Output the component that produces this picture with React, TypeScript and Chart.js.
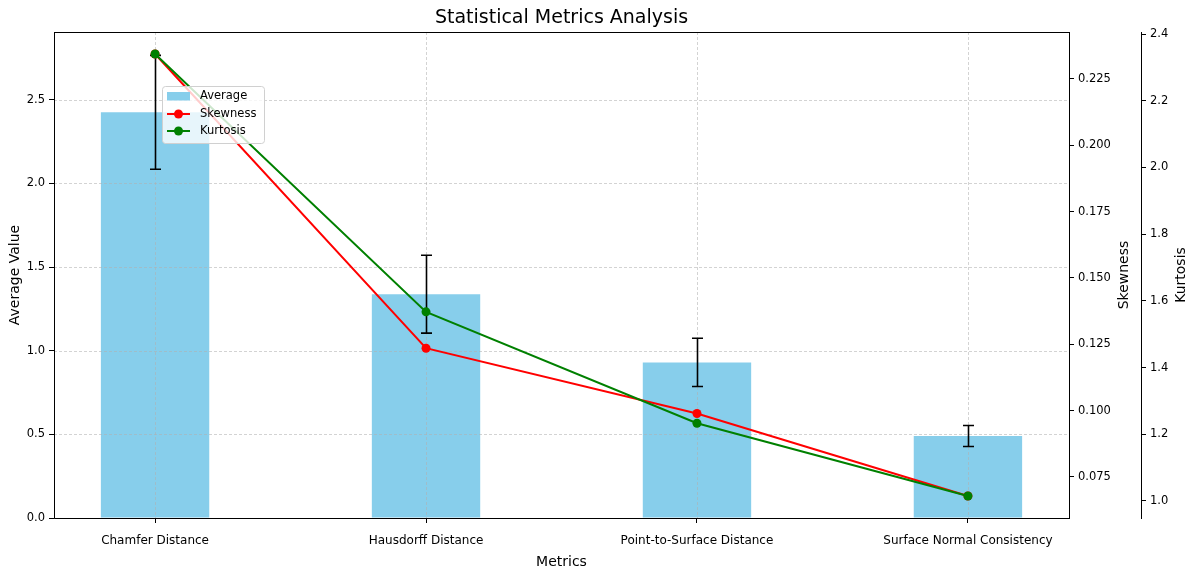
import { useEffect, useRef } from 'react';
import { Chart, registerables } from 'chart.js';

Chart.register(...registerables);

// ---- data ----
const categories = [
  'Chamfer Distance',
  'Hausdorff Distance',
  'Point-to-Surface Distance',
  'Surface Normal Consistency',
];
const categoryPositions = [0, 1, 2, 3];
const averageValues = [2.425, 1.338, 0.93, 0.49];
const averageErrors = [0.34, 0.233, 0.144, 0.063];
const skewnessValues = [0.2344, 0.1235, 0.0989, 0.0678];
const kurtosisValues = [2.34, 1.567, 1.233, 1.015];

const averageTicks = [0, 0.5, 1.0, 1.5, 2.0, 2.5];
const skewnessTicks = [0.075, 0.1, 0.125, 0.15, 0.175, 0.2, 0.225];
const kurtosisTicks = [1.0, 1.2, 1.4, 1.6, 1.8, 2.0, 2.2, 2.4];

const xRange = [-0.373, 3.373];
const averageRange = [0, 2.905];
const skewnessRange = [0.0595, 0.2427];
const kurtosisRange = [0.949, 2.406];

const CHART_TITLE = 'Statistical Metrics Analysis';
const FONT = "'DejaVu Sans', sans-serif";
const BAR_COLOR = '#87CEEB';
const SKEW_COLOR = '#ff0000';
const KURT_COLOR = '#008000';

const overlayPlugin = {
  id: 'overlay',
  afterDatasetDraw(chart: any, args: any) {
    if (args.index !== 0) return;
    const ctx = chart.ctx;
    const area = chart.chartArea;
    const xs = chart.scales.x;
    const ys = chart.scales.y;
    ctx.save();
    // grid lines (above bars, below lines)
    ctx.strokeStyle = 'rgba(176,176,176,0.7)';
    ctx.lineWidth = 0.8;
    ctx.setLineDash([3, 2]);
    ys.ticks.forEach((t: any) => {
      const y = Math.round(ys.getPixelForValue(t.value)) + 0.5;
      ctx.beginPath();
      ctx.moveTo(area.left, y);
      ctx.lineTo(area.right, y);
      ctx.stroke();
    });
    xs.ticks.forEach((t: any) => {
      const x = Math.round(xs.getPixelForValue(t.value)) + 0.5;
      ctx.beginPath();
      ctx.moveTo(x, area.top);
      ctx.lineTo(x, area.bottom);
      ctx.stroke();
    });
    ctx.setLineDash([]);
    // error bars
    ctx.strokeStyle = '#000';
    ctx.lineWidth = 1.6;
    averageValues.forEach((v, i) => {
      const x = Math.round(xs.getPixelForValue(categoryPositions[i])) + 0.5;
      const yT = ys.getPixelForValue(v + averageErrors[i]);
      const yB = ys.getPixelForValue(v - averageErrors[i]);
      ctx.beginPath();
      ctx.moveTo(x, yT);
      ctx.lineTo(x, yB);
      ctx.moveTo(x - 5.5, yT);
      ctx.lineTo(x + 5.5, yT);
      ctx.moveTo(x - 5.5, yB);
      ctx.lineTo(x + 5.5, yB);
      ctx.stroke();
    });
    ctx.restore();
  },
  afterDraw(chart: any) {
    const ctx = chart.ctx;
    const area = chart.chartArea;
    ctx.save();
    // frame
    ctx.strokeStyle = '#000';
    ctx.lineWidth = 1;
    const l = Math.round(area.left) + 0.5;
    const r = Math.round(area.right) + 0.5;
    const t = Math.round(area.top) + 0.5;
    const b = Math.round(area.bottom) + 0.5;
    ctx.beginPath();
    ctx.moveTo(l, b);
    ctx.lineTo(l, t);
    ctx.lineTo(r, t);
    ctx.lineTo(r, b);
    ctx.lineTo(l, b);
    ctx.stroke();

    // chart title, centred over the plot area
    ctx.fillStyle = '#000';
    ctx.font = `19px ${FONT}`;
    ctx.textAlign = 'center';
    ctx.textBaseline = 'middle';
    ctx.fillText(CHART_TITLE, (area.left + area.right) / 2, area.top - 14);

    // right axis titles (read bottom-to-top)
    ctx.font = `14px ${FONT}`;
    const midY = (area.top + area.bottom) / 2;
    const sk = chart.scales.ySkew;
    const ku = chart.scales.yKurt;
    [
      { text: 'Skewness', x: sk.left + 55 },
      { text: 'Kurtosis', x: ku.left + 40 },
    ].forEach((o) => {
      ctx.save();
      ctx.translate(o.x, midY);
      ctx.rotate(-Math.PI / 2);
      ctx.fillText(o.text, 0, 0);
      ctx.restore();
    });

    // legend
    const lx = area.left + 108;
    const ly = area.top + 54;
    const lw = 102;
    const lh = 57;
    ctx.fillStyle = 'rgba(255,255,255,0.8)';
    ctx.strokeStyle = '#d0d0d0';
    ctx.lineWidth = 1;
    ctx.beginPath();
    (ctx as any).roundRect(lx + 0.5, ly + 0.5, lw, lh, 3);
    ctx.fill();
    ctx.stroke();
    const ds = chart.data.datasets;
    ctx.font = `11.5px ${FONT}`;
    ctx.textAlign = 'left';
    ctx.textBaseline = 'middle';
    ctx.fillStyle = BAR_COLOR;
    ctx.fillRect(lx + 5, ly + 6, 23, 8.5);
    ctx.fillStyle = '#000';
    ctx.fillText(ds[0].label, lx + 38, ly + 10.5);
    [
      { c: SKEW_COLOR, y: ly + 28, label: ds[1].label },
      { c: KURT_COLOR, y: ly + 45, label: ds[2].label },
    ].forEach((o) => {
      ctx.strokeStyle = o.c;
      ctx.lineWidth = 2;
      ctx.beginPath();
      ctx.moveTo(lx + 5, o.y);
      ctx.lineTo(lx + 28, o.y);
      ctx.stroke();
      ctx.fillStyle = o.c;
      ctx.beginPath();
      ctx.arc(lx + 16.5, o.y, 4.5, 0, Math.PI * 2);
      ctx.fill();
      ctx.fillStyle = '#000';
      ctx.fillText(o.label, lx + 38, o.y);
    });
    ctx.restore();
  },
};

export default function App() {
  const canvasRef = useRef<HTMLCanvasElement | null>(null);

  useEffect(() => {
    if (!canvasRef.current) return;
    Chart.defaults.font.family = FONT;
    Chart.defaults.color = '#000';

    const tickFont = { size: 12, family: FONT };
    const yTickFont = { size: 11.5, family: FONT };
    const chart = new Chart(canvasRef.current, {
      type: 'bar',
      data: {
        datasets: [
          {
            type: 'bar',
            label: 'Average',
            data: averageValues.map((v, i) => ({ x: categoryPositions[i], y: v })),
            backgroundColor: BAR_COLOR,
            borderWidth: 0,
            barPercentage: 0.4,
            categoryPercentage: 1.0,
            yAxisID: 'y',
            order: 3,
          } as any,
          {
            type: 'line',
            label: 'Skewness',
            data: skewnessValues.map((v, i) => ({ x: categoryPositions[i], y: v })),
            borderColor: SKEW_COLOR,
            backgroundColor: SKEW_COLOR,
            borderWidth: 2,
            pointRadius: 4.5,
            pointBorderWidth: 0,
            pointBackgroundColor: SKEW_COLOR,
            tension: 0,
            yAxisID: 'ySkew',
            order: 2,
          } as any,
          {
            type: 'line',
            label: 'Kurtosis',
            data: kurtosisValues.map((v, i) => ({ x: categoryPositions[i], y: v })),
            borderColor: KURT_COLOR,
            backgroundColor: KURT_COLOR,
            borderWidth: 2,
            pointRadius: 4.5,
            pointBorderWidth: 0,
            pointBackgroundColor: KURT_COLOR,
            tension: 0,
            yAxisID: 'yKurt',
            order: 1,
          } as any,
        ],
      },
      options: {
        animation: false,
        responsive: false,
        events: [],
        layout: { padding: { top: 32, left: 0, right: 0, bottom: 0 } },
        plugins: {
          legend: { display: false },
          tooltip: { enabled: false },
          title: { display: false },
        },
        scales: {
          x: {
            type: 'linear',
            min: xRange[0],
            max: xRange[1],
            offset: false,
            afterBuildTicks: (scale: any) => {
              scale.ticks = categoryPositions.map((v) => ({ value: v }));
            },
            afterFit: (scale: any) => {
              scale.height = 54;
            },
            ticks: {
              font: tickFont,
              color: '#000',
              padding: 11,
              maxRotation: 0,
              autoSkip: false,
              callback: (value: any) => categories[categoryPositions.indexOf(Number(value))],
            },
            grid: {
              offset: false,
              drawOnChartArea: false,
              drawTicks: true,
              tickLength: 5,
              tickColor: '#000',
              tickWidth: 1,
            },
            border: { display: true, color: '#000', width: 1 },
            title: {
              display: true,
              text: 'Metrics',
              color: '#000',
              font: { size: 14, family: FONT },
              padding: { top: 2, bottom: 1 },
            },
          },
          y: {
            type: 'linear',
            position: 'left',
            min: averageRange[0],
            max: averageRange[1],
            afterBuildTicks: (scale: any) => {
              scale.ticks = averageTicks.map((v) => ({ value: v }));
            },
            afterFit: (scale: any) => {
              scale.width = 54;
            },
            ticks: {
              font: yTickFont,
              color: '#000',
              padding: 4,
              callback: (value: any) => Number(value).toFixed(1),
            },
            grid: {
              drawOnChartArea: false,
              drawTicks: true,
              tickLength: 5,
              tickColor: '#000',
              tickWidth: 1,
            },
            border: { display: true, color: '#000', width: 1 },
            title: {
              display: true,
              text: 'Average Value',
              color: '#000',
              font: { size: 14, family: FONT },
              padding: { top: 7, bottom: 0 },
            },
          },
          ySkew: {
            type: 'linear',
            position: 'right',
            min: skewnessRange[0],
            max: skewnessRange[1],
            afterBuildTicks: (scale: any) => {
              scale.ticks = skewnessTicks.map((v) => ({ value: v }));
            },
            afterFit: (scale: any) => {
              scale.width = 72;
            },
            ticks: {
              font: yTickFont,
              color: '#000',
              padding: 4,
              callback: (value: any) => Number(value).toFixed(3),
            },
            grid: {
              drawOnChartArea: false,
              drawTicks: true,
              tickLength: 5,
              tickColor: '#000',
              tickWidth: 1,
            },
            border: { display: true, color: '#000', width: 1 },
            title: { display: false },
          },
          yKurt: {
            type: 'linear',
            position: 'right',
            min: kurtosisRange[0],
            max: kurtosisRange[1],
            afterBuildTicks: (scale: any) => {
              scale.ticks = kurtosisTicks.map((v) => ({ value: v }));
            },
            afterFit: (scale: any) => {
              scale.width = 53;
            },
            ticks: {
              font: yTickFont,
              color: '#000',
              padding: 4,
              callback: (value: any) => Number(value).toFixed(1),
            },
            grid: {
              drawOnChartArea: false,
              drawTicks: true,
              tickLength: 5,
              tickColor: '#000',
              tickWidth: 1,
            },
            border: { display: true, color: '#000', width: 1 },
            title: { display: false },
          },
        },
      } as any,
      plugins: [overlayPlugin as any],
    });

    return () => {
      chart.destroy();
    };
  }, []);

  return (
    <div style={{ position: 'absolute', left: 0, top: 0, width: 1194, height: 572, background: '#fff' }}>
      <canvas ref={canvasRef} width={1194} height={572} style={{ display: 'block' }} />
    </div>
  );
}
